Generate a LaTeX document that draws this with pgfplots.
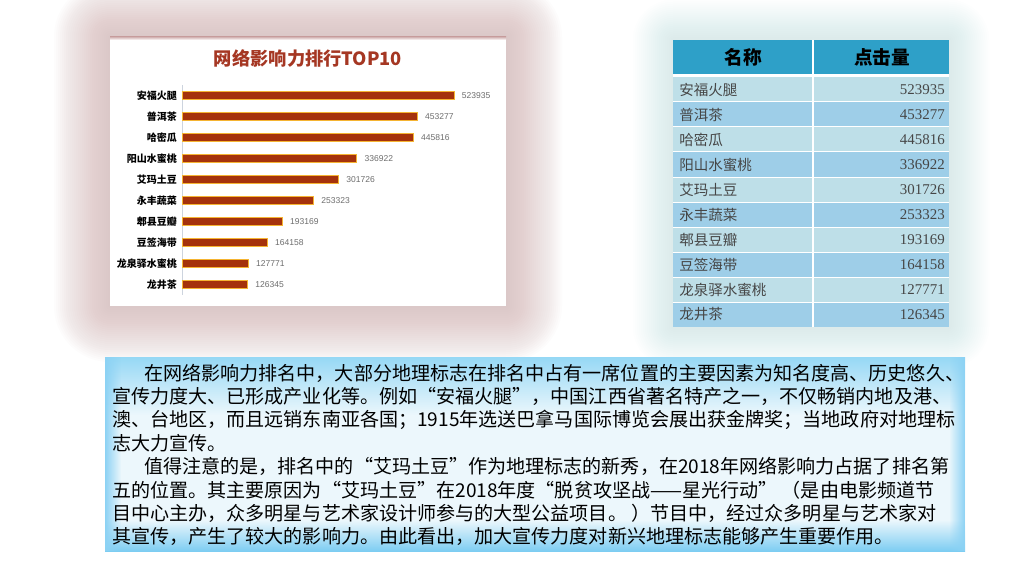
\documentclass[border=0pt]{standalone}
\usepackage{pgfplots}
\pgfplotsset{compat=1.18}
\usepackage{pgfplotstable}
\usetikzlibrary{fadings}
\usepackage{fontspec}
\setmainfont{Liberation Sans}
\newfontfamily\cjk{Noto Sans CJK SC}
\newfontfamily\cjkfw[RawFeature=+fwid]{Noto Sans CJK SC}
\newfontfamily\serifnum{Liberation Serif}
\newcommand{\LQ}{{\cjkfw “}}
\newcommand{\RQ}{{\cjkfw ”}}

\definecolor{titlered}{RGB}{165,55,35}
\definecolor{barfill}{RGB}{165,50,12}
\definecolor{baredge}{RGB}{245,180,50}
\definecolor{valgray}{RGB}{110,110,110}
\definecolor{axisgray}{RGB}{205,212,222}
\definecolor{glowpink}{RGB}{212,180,180}
\definecolor{glowblue}{RGB}{185,215,230}
\definecolor{hdr}{RGB}{46,160,200}
\definecolor{rowA}{RGB}{190,223,232}
\definecolor{rowB}{RGB}{158,206,232}
\definecolor{rowtext}{RGB}{70,70,70}
\definecolor{boxtop}{RGB}{150,216,245}
\definecolor{boxmid}{RGB}{236,247,252}
\definecolor{boxbot}{RGB}{125,205,242}
\definecolor{boxedge}{RGB}{140,210,244}

\pgfdeclareverticalshading{boxshade}{100bp}{color(0bp)=(boxbot); color(25bp)=(boxbot); color(33bp)=(boxmid); color(60bp)=(boxmid); color(75bp)=(boxtop); color(100bp)=(boxtop)}

% clicks per product, rank order
\pgfplotstableread{
idx value
0 523935
1 453277
2 445816
3 336922
4 301726
5 253323
6 193169
7 164158
8 127771
9 126345
}\clicks

\begin{document}
\begin{tikzpicture}[x=0.75pt,y=0.75pt]
\useasboundingbox (0,0) rectangle (1024,576);
\clip (0,0) rectangle (1024,576);
\fill[white] (0,0) rectangle (1024,576);

% soft glow behind the chart panel
\foreach \d in {2,4,...,56} {
  \pgfmathsetmacro\r{\d*0.75}
  \fill[glowpink, fill opacity=0.034, rounded corners=\r pt]
    (110-\d,270-\d) rectangle (506+\d,539+\d);
}
% fainter glow behind the table
\foreach \d in {2,4,...,40} {
  \pgfmathsetmacro\r{\d*0.75}
  \fill[glowblue, fill opacity=0.025, rounded corners=\r pt]
    (673-\d,249-\d) rectangle (949+\d,536+\d);
}

% chart panel
\fill[white] (110,270) rectangle (506,539);
\shade[top color=glowpink, bottom color=white] (110,536) rectangle (506,539);

\node[font=\cjk\bfseries\fontsize{13.7}{15}\selectfont, text=titlered] at (308,518) {网络影响力排行TOP10};

\coordinate (chartc) at (337.75,386);
\begin{axis}[
  at={(chartc)}, anchor=center,
  scale only axis, width=233.6pt, height=157.5pt,
  xmin=0, xmax=600000, ymin=-0.5, ymax=9.5, y dir=reverse,
  xbar, bar width=5.4pt,
  axis lines=left, axis line style={-},
  x axis line style={draw=none},
  y axis line style={draw=axisgray, line width=0.6pt},
  xtick=\empty, ytick={0,...,9},
  yticklabels={安福火腿,普洱茶,哈密瓜,阳山水蜜桃,艾玛土豆,永丰蔬菜,郫县豆瓣,豆签海带,龙泉驿水蜜桃,龙井茶},
  major tick length=0pt,
  yticklabel style={font=\cjk\bfseries\fontsize{7.5}{8}\selectfont, inner sep=0pt, xshift=-3.75pt},
  nodes near coords, point meta=explicit symbolic,
  nodes near coords style={font=\fontsize{6.4}{7}\selectfont, text=valgray, anchor=west, inner sep=0pt, xshift=5.5pt},
  clip=false,
]
\addplot[fill=barfill, draw=baredge, line width=0.7pt] table[x=value, y=idx, meta=value] {\clicks};
\end{axis}

% table
\fill[hdr] (673,501) rectangle (949,536);
\foreach \i in {0,2,4,6,8} { \fill[rowA] (673,474-25*\i) rectangle (949,499-25*\i); }
\foreach \i in {1,3,5,7,9} { \fill[rowB] (673,474-25*\i) rectangle (949,499-25*\i); }
\fill[white] (673,499) rectangle (949,501.5);
\foreach \i in {1,...,9} { \draw[white, line width=0.75pt] (673,499-25*\i) -- (949,499-25*\i); }
\draw[white, line width=0.9pt] (813,249) -- (813,536);
\node[font=\cjk\bfseries\fontsize{14}{15}\selectfont] at (743,518.5) {名称};
\node[font=\cjk\bfseries\fontsize{14}{15}\selectfont] at (882,518.5) {点击量};
\foreach \n/\v [count=\i from 0] in {安福火腿/523935,普洱茶/453277,哈密瓜/445816,阳山水蜜桃/336922,艾玛土豆/301726,永丰蔬菜/253323,郫县豆瓣/193169,豆签海带/164158,龙泉驿水蜜桃/127771,龙井茶/126345} {
  \node[anchor=west, inner sep=0pt, text=rowtext, font=\cjk\fontsize{10.9}{12}\selectfont] at (679,486.5-25*\i) {\n};
  \node[anchor=east, inner sep=0pt, text=rowtext, font=\serifnum\fontsize{11.2}{12}\selectfont] at (945,486.5-25*\i) {\v};
}

% text box: cyan top and bottom, lighter in the middle, cyan side edges
\shade[shading=boxshade] (105,25) rectangle (965,219);
\fill[boxedge, path fading=east] (105,25) rectangle (121,219);
\fill[boxedge, path fading=west] (949,25) rectangle (965,219);
\begin{scope}[every node/.style={anchor=west, inner sep=0pt, font=\cjk\fontsize{14.3}{16}\selectfont}]
\node at (144,203) {在网络影响力排名中，大部分地理标志在排名中占有一席位置的主要因素为知名度高、历史悠久、};
\node at (112,179.5) {宣传力度大、已形成产业化等。例如\LQ 安福火腿\RQ ，中国江西省著名特产之一，不仅畅销内地及港、};
\node at (112,156) {澳、台地区，而且远销东南亚各国；1915年选送巴拿马国际博览会展出获金牌奖；当地政府对地理标};
\node at (112,133) {志大力宣传。};
\node at (144,109.5) {值得注意的是，排名中的\LQ 艾玛土豆\RQ 作为地理标志的新秀，在2018年网络影响力占据了排名第};
\node at (112,86) {五的位置。其主要原因为\LQ 艾玛土豆\RQ 在2018年度\LQ 脱贫攻坚战——星光行动\RQ\ （是由电影频道节};
\node at (112,63) {目中心主办，众多明星与艺术家设计师参与的大型公益项目。 ）节目中，经过众多明星与艺术家对};
\node at (112,39.5) {其宣传，产生了较大的影响力。由此看出，加大宣传力度对新兴地理标志能够产生重要作用。};
\end{scope}
\end{tikzpicture}
\end{document}
